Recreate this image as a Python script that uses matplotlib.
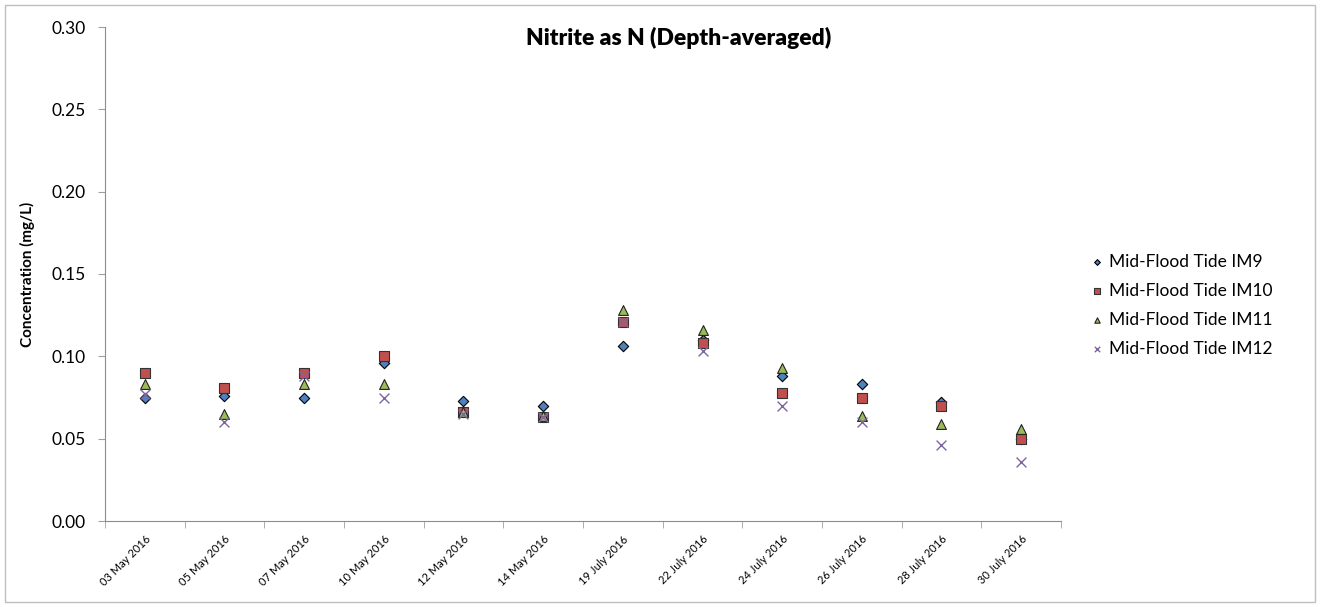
import matplotlib
matplotlib.use("Agg")
import matplotlib.pyplot as plt
from matplotlib.patches import Rectangle
import numpy as np

plt.rcParams['font.family'] = ['Lato', 'DejaVu Sans']

dates = ["03 May 2016", "05 May 2016", "07 May 2016", "10 May 2016",
         "12 May 2016", "14 May 2016", "19 July 2016", "22 July 2016",
         "24 July 2016", "26 July 2016", "28 July 2016", "30 July 2016"]

im9 = [0.075, 0.076, 0.075, 0.096, 0.073, 0.070, 0.106, 0.110, 0.088, 0.083, 0.072, 0.050]
im10 = [0.090, 0.081, 0.090, 0.100, 0.066, 0.063, 0.121, 0.108, 0.078, 0.075, 0.070, 0.050]
im11 = [0.083, 0.065, 0.083, 0.083, 0.066, 0.064, 0.128, 0.116, 0.093, 0.064, 0.059, 0.056]
im12 = [0.077, 0.060, 0.088, 0.075, 0.065, 0.063, 0.121, 0.103, 0.070, 0.060, 0.046, 0.036]

fig = plt.figure(figsize=(13.2, 6.07), dpi=100)
ax = fig.add_axes([105 / 1320, 86 / 607, 956 / 1320, 494 / 607])

x = np.arange(len(dates))
ax.scatter(x, im9, marker='D', s=28, color='#4F81BD', edgecolors='black', linewidths=0.8,
           label='Mid-Flood Tide IM9', zorder=3)
ax.scatter(x, im10, marker='s', s=48, color='#C0504D', edgecolors='#333333', linewidths=0.8,
           label='Mid-Flood Tide IM10', zorder=3)
ax.scatter(x, im11, marker='^', s=50, color='#9BBB59', edgecolors='#222222', linewidths=0.8,
           label='Mid-Flood Tide IM11', zorder=3)
ax.scatter(x, im12, marker='x', s=50, color='#8064A2', linewidths=1.0,
           label='Mid-Flood Tide IM12', zorder=4)

ax.set_xlim(-0.5, len(dates) - 0.5)
ax.set_ylim(0, 0.30)
ax.set_yticks(np.arange(0, 0.301, 0.05))
ax.set_yticklabels([f"{v:.2f}" for v in np.arange(0, 0.301, 0.05)], fontsize=12.5)

ax.set_xticks(x)
ax.set_xticklabels(dates, rotation=45, ha='right', rotation_mode='anchor', fontsize=8)
ax.set_xticks(np.arange(-0.5, len(dates)), minor=True)
ax.tick_params(axis='x', which='major', length=0, pad=9)
ax.tick_params(axis='x', which='minor', length=5, color='#A0A0A0', direction='out')
ax.tick_params(axis='y', length=5, color='#A0A0A0', direction='out', pad=9)

for side in ['top', 'right']:
    ax.spines[side].set_visible(False)
for side in ['left', 'bottom']:
    ax.spines[side].set_color('#8C8C8C')

ax.set_ylabel("Concentration (mg/L)", fontsize=11, fontweight='bold', labelpad=12)

fig.text(679 / 1320, 1 - 38 / 607, "Nitrite as N (Depth-averaged)", ha='center', va='center',
         fontsize=16.5, fontweight='heavy')

leg = fig.legend(loc='upper left', bbox_to_anchor=(1071 / 1320, 1 - 238 / 607), frameon=False,
                 fontsize=12.5, handletextpad=0.1, labelspacing=0.75, markerscale=0.55,
                 handlelength=1.2)

fig.patches.append(Rectangle((5 / 1320, 5 / 607), 1310 / 1320, 597 / 607, transform=fig.transFigure,
                             fill=False, edgecolor='#BFBFBF', linewidth=1))

fig.savefig("out.png", dpi=100)
